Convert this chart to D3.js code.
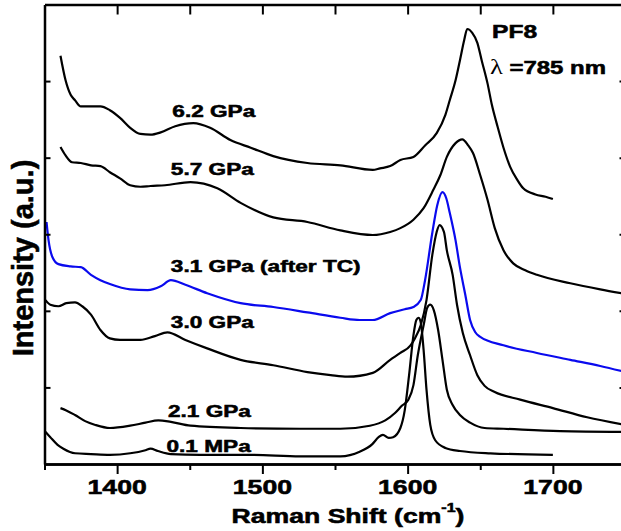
<!DOCTYPE html>
<html>
<head>
<meta charset="utf-8">
<script src="https://cdn.jsdelivr.net/npm/d3@7"></script>
<style>
  html, body { margin: 0; padding: 0; background: #fff; }
  svg { display: block; }
  text { font-family: "Liberation Sans", Arial, sans-serif; font-weight: bold; fill: #000; stroke: #000; stroke-width: 0.55; }
</style>
</head>
<body>
<svg id="chart" width="621" height="531"></svg>
<script>
// Raman spectra of PF8 at several pressures (stacked, arbitrary intensity units)
const shift62 = [1361,1364.5,1368,1371,1375,1382,1388.5,1395,1402,1409,1416,1423,1430,1440,1452.5,1464,1478,1492,1507.5,1531,1553.7,1576,1581,1588,1595,1604,1612,1620,1626,1629,1633,1636,1639,1641,1644.5,1648,1651,1655,1658,1662,1666,1670.6,1675.5,1679.6,1688,1695,1700];
const int62   = [5.33,5.01,4.82,4.75,4.67,4.67,4.67,4.62,4.52,4.39,4.31,4.30,4.33,4.41,4.45,4.39,4.23,4.13,4.02,3.93,3.90,3.84,3.86,3.89,3.97,4.01,4.16,4.32,4.56,4.75,5.01,5.27,5.54,5.68,5.63,5.50,5.27,4.97,4.69,4.40,4.13,3.88,3.71,3.60,3.52,3.49,3.46];

const shift57 = [1361,1364.5,1369,1375,1382,1388.5,1395,1402,1409,1416,1423,1433,1450.5,1469,1485,1507.5,1531,1553.7,1576,1588,1595,1604,1611,1617.7,1622.5,1627,1633,1637.6,1641.7,1645,1650,1655,1660,1666,1672.7,1681,1689,1712,1732.6,1750];
const int57   = [4.14,4.03,3.94,3.93,3.90,3.89,3.81,3.73,3.64,3.62,3.63,3.64,3.68,3.60,3.41,3.22,3.16,3.05,2.99,3.03,3.08,3.19,3.34,3.58,3.77,4.01,4.19,4.24,4.16,4.06,3.77,3.45,3.08,2.79,2.62,2.53,2.47,2.36,2.28,2.22];

const shift31 = [1351.4,1352.8,1355.5,1359.6,1368,1375,1382,1388.5,1395,1409,1421,1430,1437,1447,1462,1485,1507.5,1531,1553.7,1567,1576,1588,1598,1604,1609,1612,1617,1620.4,1624,1626.6,1629,1633,1636,1639.7,1643,1646.6,1650,1666,1689,1712,1732.6,1750];
const int31   = [3.16,2.92,2.70,2.61,2.58,2.57,2.47,2.40,2.35,2.28,2.27,2.32,2.40,2.34,2.23,2.10,2.05,1.98,1.91,1.88,1.88,1.97,2.02,2.05,2.14,2.40,3.02,3.38,3.55,3.47,3.28,2.92,2.57,2.21,1.88,1.72,1.66,1.55,1.45,1.36,1.28,1.20];

const shift30 = [1350.7,1354,1359.6,1365,1371,1376,1382,1388.5,1395,1402,1416,1426,1434.6,1447,1462,1485,1507.5,1531,1547,1558.5,1576,1588,1595,1602,1605,1609,1613,1617,1620,1622,1625,1627,1631,1634,1638,1643,1648,1653,1660,1677.5,1700,1723.6,1750];
const int30   = [2.14,2.08,2.06,2.10,2.11,2.06,1.95,1.75,1.64,1.62,1.62,1.67,1.72,1.62,1.51,1.36,1.29,1.20,1.16,1.14,1.19,1.36,1.45,1.55,1.64,1.81,2.14,2.73,3.03,3.12,3.03,2.79,2.47,2.08,1.71,1.42,1.16,1.02,0.94,0.84,0.73,0.61,0.51];

const shift21 = [1361,1365,1371,1378,1385,1395,1409,1419.5,1428.4,1437,1450.5,1485,1526,1553.7,1574,1584.6,1591.5,1596,1600.5,1604,1607,1611,1613.5,1615.6,1618,1621,1624,1627,1631,1636,1643,1653,1666,1705,1750];
const int21   = [0.73,0.70,0.64,0.56,0.51,0.47,0.50,0.54,0.57,0.55,0.50,0.47,0.46,0.46,0.50,0.57,0.67,0.76,0.84,1.03,1.42,1.81,2.04,2.08,2.01,1.75,1.36,0.97,0.77,0.64,0.54,0.47,0.46,0.43,0.42];

const shift01 = [1350.7,1354,1359,1363,1371,1382,1395,1409,1419.5,1423,1428,1437,1457,1492,1526,1553.7,1567,1575.7,1580,1583,1587,1590,1595,1598,1601,1604,1606,1607.5,1609,1611,1613,1615.6,1619,1626,1636,1657,1700];
const int01   = [0.42,0.35,0.25,0.20,0.14,0.13,0.12,0.14,0.18,0.20,0.17,0.13,0.12,0.12,0.10,0.10,0.16,0.26,0.35,0.38,0.34,0.35,0.47,0.70,1.16,1.68,1.88,1.91,1.85,1.49,0.97,0.51,0.31,0.21,0.17,0.14,0.12];

const seriesNames  = ["6.2 GPa", "5.7 GPa", "3.1 GPa (after TC)", "3.0 GPa", "2.1 GPa", "0.1 MPa"];
const seriesShifts = [shift62, shift57, shift31, shift30, shift21, shift01];
const seriesValues = [int62, int57, int31, int30, int21, int01];
const seriesColors = ["#000", "#000", "#0a0aee", "#000", "#000", "#000"];
// label anchor (Raman shift, intensity) for each curve's caption
const labelShift = [1438, 1437, 1437, 1437, 1435, 1434];
const labelInt   = [4.53, 3.77, 2.51, 1.78, 0.61, 0.16];

const xMajor = [1400, 1500, 1600, 1700];
const xMinor = [1350, 1450, 1550, 1650, 1750];
const yTicks = [1, 2, 3, 4, 5];

const SX = 1.33; // horizontal stretch applied to all lettering

const svg = d3.select("#chart");
const x = d3.scaleLinear().domain([1350, 1750]).range([44.5, 625.5]);
const y = d3.scaleLinear().domain([0, 6]).range([464, 4.5]);

// curves
const line = d3.line().x(d => x(d[0])).y(d => y(d[1])).curve(d3.curveMonotoneX);
seriesNames.forEach((name, i) => {
  const pts = seriesShifts[i].map((s, k) => [s, seriesValues[i][k]]);
  svg.append("path")
    .attr("d", line(pts))
    .attr("fill", "none")
    .attr("stroke", seriesColors[i])
    .attr("stroke-width", 2.2)
    .attr("stroke-linejoin", "round");
});

// axes
function styleAxis(g) {
  g.select(".domain").attr("stroke", "#000").attr("stroke-width", 2.5);
  g.selectAll(".tick line").attr("stroke", "#000").attr("stroke-width", 2);
}
const bottomMajor = svg.append("g").attr("transform", `translate(0,${y(0)})`)
  .call(d3.axisBottom(x).tickValues(xMajor).tickSize(10).tickSizeOuter(0).tickFormat(""));
styleAxis(bottomMajor);
const bottomMinor = svg.append("g").attr("transform", `translate(0,${y(0)})`)
  .call(d3.axisBottom(x).tickValues(xMinor).tickSize(6).tickSizeOuter(0).tickFormat(""));
styleAxis(bottomMinor);

// tick labels, drawn with the same horizontal stretch
xMajor.forEach(v => {
  svg.append("text")
    .attr("transform", `translate(${x(v)},494) scale(${SX},1)`)
    .attr("text-anchor", "middle")
    .attr("font-size", 20)
    .text(v);
});

const topAxis = svg.append("g").attr("transform", `translate(0,${y(6)})`)
  .call(d3.axisTop(x).tickValues(d3.range(1400, 1750, 50)).tickSize(-10).tickSizeOuter(0).tickFormat(""));
styleAxis(topAxis);

const leftAxis = svg.append("g").attr("transform", `translate(${x(1350)},0)`)
  .call(d3.axisLeft(y).tickValues(yTicks).tickSize(-6).tickSizeOuter(0).tickFormat(""));
styleAxis(leftAxis);

const rightAxis = svg.append("g").attr("transform", `translate(${x(1750)},0)`)
  .call(d3.axisRight(y).tickValues(yTicks).tickSize(-6).tickSizeOuter(0).tickFormat(""));
styleAxis(rightAxis);

// curve captions
seriesNames.forEach((name, i) => {
  svg.append("text")
    .attr("transform", `translate(${x(labelShift[i])},${y(labelInt[i])}) scale(${SX},1)`)
    .attr("font-size", 17)
    .text(name);
});

// sample / excitation notes
svg.append("text")
  .attr("transform", `translate(492,38) scale(${SX},1)`)
  .attr("font-size", 18.5)
  .text("PF8");
const lam = svg.append("text")
  .attr("transform", `translate(490,74) scale(${SX},1)`)
  .attr("font-size", 18);
lam.append("tspan").attr("font-family", "'Liberation Serif', serif").attr("font-weight", "normal")
  .attr("stroke-width", 0).attr("font-size", 20).text("λ");
lam.append("tspan").text(" =785 nm");

// axis titles
const xt = svg.append("text")
  .attr("transform", `translate(348,523) scale(${SX},1)`)
  .attr("text-anchor", "middle")
  .attr("font-size", 20);
xt.append("tspan").text("Raman Shift (cm");
xt.append("tspan").attr("font-size", 12).attr("dy", -11).text("-1");
xt.append("tspan").attr("dy", 11).text(")");

svg.append("text")
  .attr("transform", `translate(33,258) rotate(-90)`)
  .attr("text-anchor", "middle")
  .attr("font-size", 29)
  .text("Intensity (a.u.)");
</script>
</body>
</html>
